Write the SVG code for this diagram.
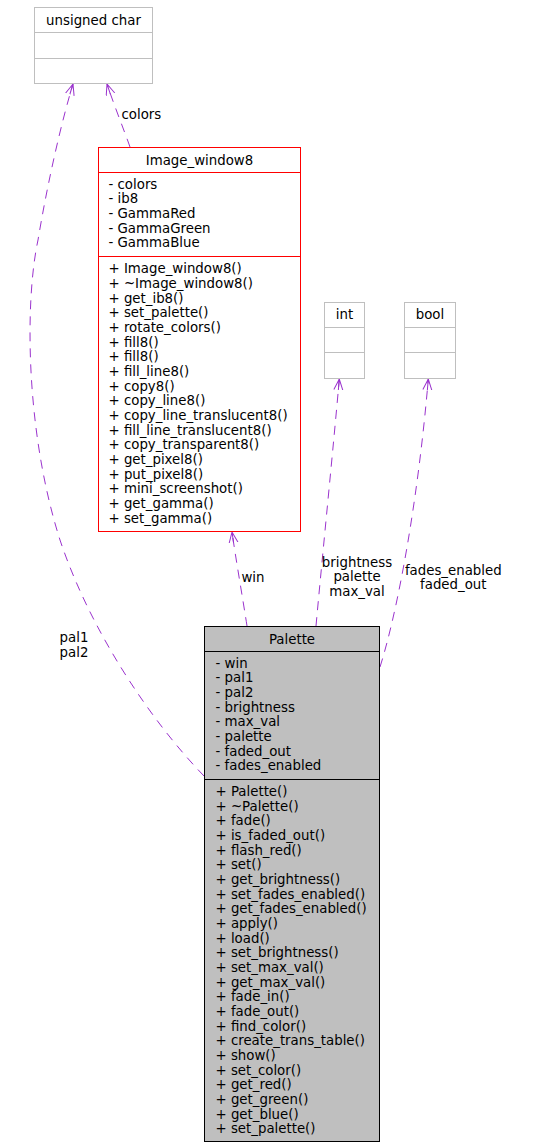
<svg xmlns="http://www.w3.org/2000/svg" width="535" height="1147" viewBox="0 0 535 1147">
<defs>
<style>
text{font-family:"DejaVu Sans","Liberation Sans",sans-serif;font-size:13.33px;fill:#000}
.c{text-anchor:middle}
.box{stroke-width:1}
.gray{fill:#fff;stroke:#bfbfbf}
.red{fill:#fff;stroke:#ff0000}
.blk{fill:#bfbfbf;stroke:#000}
.edge{fill:none;stroke:#9a32cd;stroke-width:1;stroke-dasharray:9,7;marker-end:url(#arr)}
</style>
<marker id="arr" markerUnits="userSpaceOnUse" markerWidth="14" markerHeight="12" refX="11" refY="5" orient="auto">
<path d="M0,0.5 L11,5 L0,9.5 M0,5 L11,5" fill="none" stroke="#9a32cd" stroke-width="1"/>
</marker>
</defs>
<rect width="535" height="1147" fill="#fff"/>
<g id="edges">
<path class="edge" d="M204,776 C150,720 90,630 60,540 C25,430 25,300 38,240 C48,180 62,120 73,84"/>
<text class="c" x="74" y="642.3">pal1</text>
<text class="c" x="74" y="657">pal2</text>
<path class="edge" d="M130,147 C124,130 114,105 107,84"/>
<text x="121.5" y="118.5">colors</text>
<path class="edge" d="M247,626 C243,600 236,560 232,532"/>
<text class="c" x="253" y="581.5">win</text>
<path class="edge" d="M316,626 C322,560 334,440 339.3,379"/>
<text class="c" x="357" y="566.7">brightness</text>
<text class="c" x="357" y="581.3">palette</text>
<text class="c" x="357" y="595.7">max_val</text>
<path class="edge" d="M380,667 C398,610 418,500 428.3,379"/>
<text class="c" x="453.3" y="574.7">fades_enabled</text>
<text class="c" x="453.3" y="589.3">faded_out</text>
</g>
<g id="unsigned_char">
<rect class="box gray" x="34.5" y="7.5" width="118" height="76"/>
<path class="box gray" d="M34.5,32.5 H152.5 M34.5,58.5 H152.5"/>
<text class="c" x="93.5" y="24.6">unsigned char</text>
</g>
<g id="int">
<rect class="box gray" x="324.5" y="302.5" width="40" height="76"/>
<path class="box gray" d="M324.5,327.5 H364.5 M324.5,352.5 H364.5"/>
<text class="c" x="344.5" y="319.2">int</text>
</g>
<g id="bool">
<rect class="box gray" x="404.5" y="302.5" width="51" height="76"/>
<path class="box gray" d="M404.5,327.5 H455.5 M404.5,352.5 H455.5"/>
<text class="c" x="430" y="319.2">bool</text>
</g>
<g id="Image_window8">
<rect class="box red" x="98.5" y="147.5" width="202" height="384"/>
<path class="box red" d="M98.5,172.5 H300.5 M98.5,256.5 H300.5"/>
<text class="c" x="199.5" y="164.5">Image_window8</text>
<text x="108.5" y="188.8"><tspan x="108.5">- colors</tspan><tspan x="108.5" dy="14.67">- ib8</tspan><tspan x="108.5" dy="14.67">- GammaRed</tspan><tspan x="108.5" dy="14.67">- GammaGreen</tspan><tspan x="108.5" dy="14.67">- GammaBlue</tspan></text>
<text x="108.5" y="273.2"><tspan x="108.5">+ Image_window8()</tspan><tspan x="108.5" dy="14.67">+ ~Image_window8()</tspan><tspan x="108.5" dy="14.67">+ get_ib8()</tspan><tspan x="108.5" dy="14.67">+ set_palette()</tspan><tspan x="108.5" dy="14.67">+ rotate_colors()</tspan><tspan x="108.5" dy="14.67">+ fill8()</tspan><tspan x="108.5" dy="14.67">+ fill8()</tspan><tspan x="108.5" dy="14.67">+ fill_line8()</tspan><tspan x="108.5" dy="14.67">+ copy8()</tspan><tspan x="108.5" dy="14.67">+ copy_line8()</tspan><tspan x="108.5" dy="14.67">+ copy_line_translucent8()</tspan><tspan x="108.5" dy="14.67">+ fill_line_translucent8()</tspan><tspan x="108.5" dy="14.67">+ copy_transparent8()</tspan><tspan x="108.5" dy="14.67">+ get_pixel8()</tspan><tspan x="108.5" dy="14.67">+ put_pixel8()</tspan><tspan x="108.5" dy="14.67">+ mini_screenshot()</tspan><tspan x="108.5" dy="14.67">+ get_gamma()</tspan><tspan x="108.5" dy="14.67">+ set_gamma()</tspan></text>
</g>
<g id="Palette">
<rect class="box blk" x="204.5" y="626.5" width="175" height="515"/>
<path class="box blk" d="M204.5,651.5 H379.5 M204.5,779.5 H379.5"/>
<text class="c" x="292" y="643.5">Palette</text>
<text x="215.5" y="667.7"><tspan x="215.5">- win</tspan><tspan x="215.5" dy="14.67">- pal1</tspan><tspan x="215.5" dy="14.67">- pal2</tspan><tspan x="215.5" dy="14.67">- brightness</tspan><tspan x="215.5" dy="14.67">- max_val</tspan><tspan x="215.5" dy="14.67">- palette</tspan><tspan x="215.5" dy="14.67">- faded_out</tspan><tspan x="215.5" dy="14.67">- fades_enabled</tspan></text>
<text x="215.5" y="796"><tspan x="215.5">+ Palette()</tspan><tspan x="215.5" dy="14.67">+ ~Palette()</tspan><tspan x="215.5" dy="14.67">+ fade()</tspan><tspan x="215.5" dy="14.67">+ is_faded_out()</tspan><tspan x="215.5" dy="14.67">+ flash_red()</tspan><tspan x="215.5" dy="14.67">+ set()</tspan><tspan x="215.5" dy="14.67">+ get_brightness()</tspan><tspan x="215.5" dy="14.67">+ set_fades_enabled()</tspan><tspan x="215.5" dy="14.67">+ get_fades_enabled()</tspan><tspan x="215.5" dy="14.67">+ apply()</tspan><tspan x="215.5" dy="14.67">+ load()</tspan><tspan x="215.5" dy="14.67">+ set_brightness()</tspan><tspan x="215.5" dy="14.67">+ set_max_val()</tspan><tspan x="215.5" dy="14.67">+ get_max_val()</tspan><tspan x="215.5" dy="14.67">+ fade_in()</tspan><tspan x="215.5" dy="14.67">+ fade_out()</tspan><tspan x="215.5" dy="14.67">+ find_color()</tspan><tspan x="215.5" dy="14.67">+ create_trans_table()</tspan><tspan x="215.5" dy="14.67">+ show()</tspan><tspan x="215.5" dy="14.67">+ set_color()</tspan><tspan x="215.5" dy="14.67">+ get_red()</tspan><tspan x="215.5" dy="14.67">+ get_green()</tspan><tspan x="215.5" dy="14.67">+ get_blue()</tspan><tspan x="215.5" dy="14.67">+ set_palette()</tspan></text>
</g>
</svg>
